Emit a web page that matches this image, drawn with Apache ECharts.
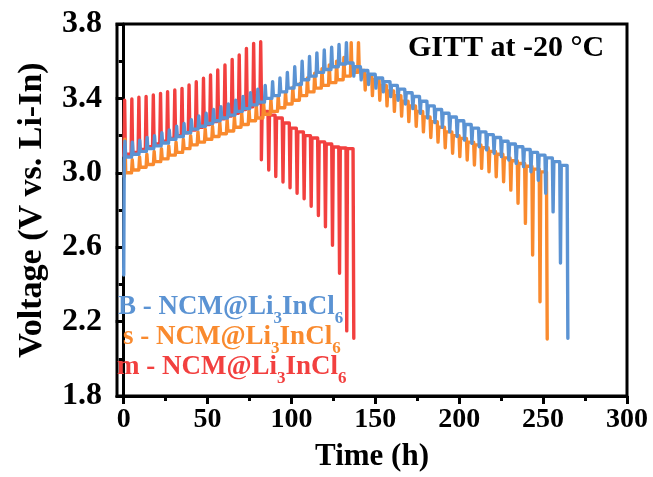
<!DOCTYPE html>
<html>
<head>
<meta charset="utf-8">
<script src="https://cdn.jsdelivr.net/npm/echarts@6/dist/echarts.min.js"></script>
<style>
html,body{margin:0;padding:0;background:#fff;}
#chart{width:653px;height:477px;}
</style>
</head>
<body>
<div id="chart"></div>
<script>
// ---- axis ticks ----
const xMajorTicks = [0, 50, 100, 150, 200, 250, 300];
const xMinorTicks = [25, 75, 125, 175, 225, 275];
const yMajorTicks = [1.8, 2.2, 2.6, 3.0, 3.4, 3.8];
const yMinorTicks = [2.0, 2.4, 2.8, 3.2, 3.6];

// ---- GITT pulses: [time (h), relaxed voltage before pulse, pulse peak/bottom voltage] ----
// B - NCM@Li3InCl6 (blue)
const blueStart = [0, 2.45];
const blueCharge = [
  [0.3,3.07,3.17],[4.7,3.085,3.165],[9.1,3.10,3.175],[13.5,3.115,3.19],[17.9,3.13,3.20],
  [22.3,3.145,3.215],[26.7,3.16,3.23],[31.1,3.18,3.25],[35.5,3.195,3.265],[39.9,3.215,3.285],
  [44.3,3.235,3.305],[48.7,3.25,3.32],[53.1,3.265,3.34],[57.5,3.28,3.355],[61.9,3.295,3.37],
  [66.3,3.31,3.39],[70.7,3.33,3.41],[75.1,3.345,3.43],[79.5,3.365,3.45],[83.9,3.38,3.47],
  [88.3,3.40,3.49],[92.7,3.415,3.51],[97.1,3.435,3.54],[101.5,3.455,3.57],[105.9,3.475,3.60],
  [110.3,3.50,3.625],[114.7,3.52,3.645],[119.1,3.54,3.66],[123.5,3.555,3.675],[127.9,3.57,3.69],
  [132.3,3.585,3.70]
];
const blueDischarge = [
  [136.7,3.59,3.52],[141.1,3.57,3.50],[145.5,3.55,3.475],[149.9,3.53,3.455],[154.3,3.51,3.435],
  [158.7,3.49,3.41],[163.1,3.47,3.39],[167.5,3.45,3.37],[171.9,3.43,3.345],[176.3,3.41,3.32],
  [180.7,3.385,3.295],[185.1,3.36,3.27],[189.5,3.34,3.245],[193.9,3.32,3.22],[198.3,3.30,3.195],
  [202.7,3.28,3.176],[207.1,3.26,3.158],[211.5,3.24,3.14],[215.9,3.22,3.123],[220.3,3.205,3.105],
  [224.7,3.19,3.087],[229.1,3.17,3.069],[233.5,3.155,3.051],[237.9,3.14,3.033],[242.3,3.125,3.006],
  [246.7,3.11,2.96],[251.1,3.095,2.89],[255.5,3.08,2.79],[259.9,3.06,2.515],[264.3,3.04,2.11]
];
// s - NCM@Li3InCl6 (orange)
const orangeCharge = [
  [0.3,2.98,3.18],[4.65,3.00,3.07],[9.0,3.015,3.085],[13.35,3.03,3.10],[17.7,3.045,3.115],
  [22.05,3.06,3.13],[26.4,3.075,3.145],[30.75,3.095,3.165],[35.1,3.11,3.18],[39.45,3.13,3.20],
  [43.8,3.15,3.22],[48.15,3.165,3.235],[52.5,3.18,3.25],[56.85,3.195,3.27],[61.2,3.21,3.285],
  [65.55,3.225,3.30],[69.9,3.245,3.32],[74.25,3.26,3.34],[78.6,3.28,3.36],[82.95,3.295,3.375],
  [87.3,3.315,3.395],[91.65,3.33,3.415],[96.0,3.35,3.435],[100.35,3.37,3.46],[104.7,3.39,3.48],
  [109.05,3.415,3.51],[113.4,3.435,3.535],[117.75,3.455,3.56],[122.1,3.47,3.58],[126.45,3.485,3.60],
  [130.8,3.50,3.62],[135.15,3.52,3.70],[139.5,3.54,3.70]
];
const orangeDischarge = [
  [143.5,3.55,3.445],[147.8,3.525,3.415],[152.2,3.50,3.39],[156.5,3.47,3.36],[160.9,3.44,3.33],
  [165.2,3.415,3.305],[169.5,3.385,3.275],[173.9,3.36,3.25],[178.2,3.33,3.22],[182.6,3.30,3.19],
  [186.9,3.275,3.165],[191.2,3.245,3.135],[195.6,3.22,3.105],[199.9,3.20,3.087],[204.3,3.185,3.069],
  [208.6,3.165,3.042],[212.9,3.15,3.024],[217.3,3.135,3.006],[221.6,3.115,2.979],[226.0,3.10,2.952],
  [230.3,3.08,2.907],[234.6,3.065,2.836],[239.0,3.05,2.728],[243.3,3.035,2.558],[247.7,3.02,2.307],
  [252.0,3.005,2.106]
];
// m - NCM@Li3InCl6 (red)
const redCharge = [
  [0.1,3.09,3.39],[4.4,3.10,3.397],[8.6,3.11,3.406],[12.9,3.125,3.41],[17.2,3.14,3.418],
  [21.5,3.155,3.427],[25.7,3.17,3.436],[30.0,3.185,3.445],[34.3,3.20,3.454],[38.5,3.215,3.472],
  [42.8,3.23,3.49],[47.1,3.245,3.508],[51.3,3.26,3.526],[55.6,3.275,3.553],[59.9,3.29,3.58],
  [64.2,3.305,3.61],[68.4,3.32,3.633],[72.7,3.34,3.669],[77.0,3.355,3.696],[81.2,3.375,3.705]
];
const redDischarge = [
  [81.6,3.40,3.07],[86.0,3.33,3.015],[90.2,3.31,2.98],[94.5,3.295,2.95],[98.7,3.268,2.92],
  [102.9,3.24,2.89],[107.1,3.22,2.86],[111.3,3.20,2.82],[115.6,3.187,2.77],[119.8,3.166,2.71],
  [124.0,3.155,2.61],[128.2,3.139,2.46],[132.5,3.133,2.15],[136.7,3.13,2.11]
];

const seriesNames = ['B - NCM@Li3InCl6', 's - NCM@Li3InCl6', 'm - NCM@Li3InCl6'];
const colors = { blue: '#5b93d3', orange: '#f98a2e', red: '#f2403f' };

// Build the polyline of a GITT curve from the pulse tables
const PULSE = 0.45, RELAX = 0.9;
function buildCurve(start, charge, discharge) {
  const pts = [];
  if (start) pts.push(start.slice());
  charge.forEach((p, i) => {
    const next = i + 1 < charge.length ? charge[i + 1][1] : discharge[0][1];
    pts.push([p[0], p[1]], [p[0] + PULSE, p[2]], [p[0] + RELAX, next]);
  });
  discharge.forEach((p, i) => {
    pts.push([p[0], p[1]], [p[0] + PULSE, p[2]]);
    if (i + 1 < discharge.length) pts.push([p[0] + RELAX, discharge[i + 1][1]]);
  });
  return pts;
}

const FONT = 'Liberation Serif';
const chart = echarts.init(document.getElementById('chart'), null, { renderer: 'canvas' });

function lineSeries(name, data, color, z) {
  return {
    name, type: 'line', data, showSymbol: false, symbol: 'none', z,
    lineStyle: { color, width: 3.4, join: 'round', cap: 'round' },
    clip: true, animation: false
  };
}

function subLabel(prefix) {
  return '{m|' + prefix + ' - NCM@Li}{s|3}{m|InCl}{s|6}';
}
function legendRich(color) {
  return {
    m: { fontFamily: FONT, fontWeight: 'bold', fontSize: 27, lineHeight: 30, fill: color, verticalAlign: 'top' },
    s: { fontFamily: FONT, fontWeight: 'bold', fontSize: 17, lineHeight: 17, fill: color, verticalAlign: 'top', padding: [16, 0, 0, 0] }
  };
}

const option = {
  animation: false,
  backgroundColor: '#fff',
  grid: { left: 117, right: 26, top: 24, bottom: 81, show: true, borderColor: '#000', borderWidth: 3, backgroundColor: 'transparent' },
  xAxis: [{
    type: 'value', min: -4, max: 300,
    name: 'Time (h)', nameLocation: 'middle', nameGap: 45,
    nameTextStyle: { fontFamily: FONT, fontWeight: 'bold', fontSize: 31, color: '#000' },
    axisLine: { show: true, lineStyle: { color: '#000', width: 3 } },
    axisTick: { show: true, customValues: xMajorTicks, length: 8, lineStyle: { color: '#000', width: 3 } },
    axisLabel: { show: true, customValues: xMajorTicks, margin: 10, fontFamily: FONT, fontWeight: 'bold', fontSize: 28, color: '#000' },
    splitLine: { show: false }
  }, {
    type: 'value', min: -4, max: 300, position: 'bottom',
    axisLine: { show: false },
    axisTick: { show: true, customValues: xMinorTicks, length: 5, lineStyle: { color: '#000', width: 3 } },
    axisLabel: { show: false },
    splitLine: { show: false }
  }],
  yAxis: [{
    type: 'value', min: 1.8, max: 3.8,
    name: 'Voltage (V vs. Li-In)', nameLocation: 'middle', nameGap: 68, nameRotate: 90,
    nameTextStyle: { fontFamily: FONT, fontWeight: 'bold', fontSize: 34, color: '#000' },
    axisLine: { show: true, lineStyle: { color: '#000', width: 3 } },
    axisTick: { show: true, customValues: yMajorTicks, length: 8, lineStyle: { color: '#000', width: 3 } },
    axisLabel: { show: true, customValues: yMajorTicks, margin: 15, fontFamily: FONT, fontWeight: 'bold', fontSize: 32, color: '#000',
      formatter: v => Number(v).toFixed(1) },
    splitLine: { show: false }
  }, {
    type: 'value', min: 1.8, max: 3.8, position: 'left',
    axisLine: { show: false },
    axisTick: { show: true, customValues: yMinorTicks, length: 5, lineStyle: { color: '#000', width: 3 } },
    axisLabel: { show: false },
    splitLine: { show: false }
  }],
  series: [
    lineSeries(seriesNames[2], buildCurve(null, redCharge, redDischarge), colors.red, 2),
    lineSeries(seriesNames[1], buildCurve(null, orangeCharge, orangeDischarge), colors.orange, 3),
    lineSeries(seriesNames[0], buildCurve(blueStart, blueCharge, blueDischarge), colors.blue, 4)
  ],
  graphic: [
    { type: 'text', left: 408, top: 33, z: 10,
      style: { text: 'GITT at -20 °C', fontFamily: FONT, fontWeight: 'bold', fontSize: 30, fill: '#000' } },
    { type: 'text', left: 118, top: 294, z: 10, style: { text: subLabel('B'), rich: legendRich(colors.blue) } },
    { type: 'text', left: 123, top: 324, z: 10, style: { text: subLabel('s'), rich: legendRich(colors.orange) } },
    { type: 'text', left: 117, top: 354, z: 10, style: { text: subLabel('m'), rich: legendRich(colors.red) } }
  ]
};
chart.setOption(option);
</script>
</body>
</html>
